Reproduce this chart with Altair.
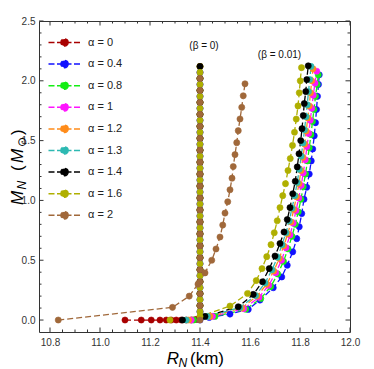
import altair as alt
import pandas as pd

# ---------------- series definitions ----------------
alpha_labels = ["α = 0", "α = 0.4", "α = 0.8", "α = 1", "α = 1.2",
                "α = 1.3", "α = 1.4", "α = 1.6", "α = 2"]
alpha_colors = ["#A80000", "#1010FF", "#14EE14", "#FF14FF", "#FF8C1A",
                "#2DB9B2", "#000000", "#AFAF00", "#A0683A"]

# beta = 0 branch: vertical column at R ~ 11.40 km (same for every alpha)
beta0_R = 11.40
beta0_M_a = [0.02, 0.12, 0.22, 0.32, 0.42, 0.52, 0.62, 0.72, 0.82, 0.92, 1.02,
             1.12, 1.22, 1.32, 1.42, 1.52, 1.62, 1.72, 1.82, 1.92, 2.02, 2.12]
beta0_M_b = [0.07, 0.17, 0.27, 0.37, 0.47, 0.57, 0.67, 0.77, 0.87, 0.97, 1.07,
             1.17, 1.27, 1.37, 1.47, 1.57, 1.67, 1.77, 1.87, 1.97, 2.07]
beta0_M_c = [0.0, 0.12, 0.22, 0.32, 0.42, 0.52, 0.62, 0.72, 0.82, 0.92, 1.02,
             1.12, 1.22, 1.32, 1.42, 1.52, 1.62, 1.72, 1.82, 1.92, 2.02]
beta0_sets = ["a", "b", "a", "b", "a", "b", "a", "b", "c"]

# alpha = 0 low-mass tail
a0_tail_R = [11.10, 11.165, 11.205, 11.24, 11.265, 11.285, 11.305, 11.325,
             11.345, 11.365, 11.385]
a0_tail_M = [0.0, 0.0, 0.0, 0.0, 0.0, 0.0, 0.0, 0.0, 0.0, 0.0, 0.005]

# beta = 0.01 branch
r_a04 = [11.40, 11.437, 11.52, 11.593, 11.64, 11.693, 11.727, 11.749, 11.771, 11.787,
         11.797, 11.807, 11.816, 11.827, 11.837, 11.845, 11.851, 11.857, 11.862,
         11.866, 11.870, 11.874, 11.877]
m_a04 = [0.0, 0.022, 0.05, 0.089, 0.167, 0.27, 0.36, 0.458, 0.57, 0.68, 0.78, 0.89,
         1.01, 1.11, 1.22, 1.33, 1.43, 1.54, 1.65, 1.76, 1.87, 1.97, 2.05]
r_a08 = [11.375, 11.46, 11.583, 11.643, 11.683, 11.711, 11.734, 11.752, 11.768, 11.781,
         11.793, 11.804, 11.813, 11.822, 11.83, 11.837, 11.844, 11.85, 11.856, 11.862,
         11.869, 11.873]
m_a08 = [0.0, 0.03, 0.09, 0.18, 0.28, 0.385, 0.49, 0.595, 0.70, 0.80, 0.905, 1.01,
         1.115, 1.22, 1.33, 1.44, 1.55, 1.66, 1.76, 1.87, 1.97, 2.05]
r_a10 = [11.365, 11.45, 11.575, 11.636, 11.675, 11.703, 11.726, 11.744, 11.76, 11.773,
         11.784, 11.795, 11.805, 11.813, 11.821, 11.828, 11.835, 11.841, 11.847,
         11.853, 11.86, 11.867]
m_a10 = [0.0, 0.03, 0.095, 0.19, 0.29, 0.395, 0.50, 0.605, 0.71, 0.81, 0.915, 1.02,
         1.125, 1.23, 1.34, 1.45, 1.56, 1.67, 1.77, 1.88, 1.98, 2.08]
r_a12 = [11.355, 11.44, 11.567, 11.628, 11.667, 11.695, 11.717, 11.735, 11.751, 11.764,
         11.775, 11.786, 11.796, 11.804, 11.812, 11.819, 11.825, 11.831, 11.837,
         11.842, 11.847, 11.852]
m_a12 = [0.0, 0.03, 0.10, 0.20, 0.30, 0.41, 0.515, 0.62, 0.72, 0.82, 0.925, 1.03,
         1.14, 1.25, 1.36, 1.47, 1.58, 1.69, 1.79, 1.90, 2.00, 2.10]
r_a13 = [11.345, 11.43, 11.56, 11.622, 11.66, 11.688, 11.71, 11.728, 11.744, 11.757,
         11.768, 11.779, 11.789, 11.797, 11.805, 11.812, 11.818, 11.824, 11.829,
         11.834, 11.839, 11.844]
m_a13 = [0.0, 0.03, 0.105, 0.205, 0.31, 0.42, 0.525, 0.63, 0.73, 0.83, 0.935, 1.04,
         1.15, 1.26, 1.37, 1.48, 1.59, 1.70, 1.80, 1.91, 2.01, 2.12]
r_a14 = [11.33, 11.42, 11.553, 11.613, 11.65, 11.677, 11.70, 11.72, 11.736, 11.749,
         11.76, 11.771, 11.781, 11.789, 11.796, 11.803, 11.808, 11.813, 11.817,
         11.823, 11.827, 11.833]
m_a14 = [0.0, 0.03, 0.111, 0.214, 0.32, 0.43, 0.535, 0.64, 0.736, 0.84, 0.94, 1.056,
         1.16, 1.28, 1.39, 1.50, 1.60, 1.71, 1.81, 1.91, 2.01, 2.125]
r_a16 = [11.28, 11.40, 11.52, 11.59, 11.625, 11.648, 11.667, 11.684, 11.697, 11.709,
         11.72, 11.731, 11.742, 11.752, 11.761, 11.77, 11.778, 11.785, 11.792,
         11.797, 11.801, 11.806]
m_a16 = [0.0, 0.03, 0.117, 0.222, 0.33, 0.43, 0.53, 0.63, 0.73, 0.83, 0.94, 1.04,
         1.14, 1.25, 1.35, 1.46, 1.57, 1.68, 1.79, 1.90, 2.00, 2.11]
r_a20 = [10.833, 11.29, 11.357, 11.392, 11.42, 11.447, 11.464, 11.48, 11.491, 11.50,
         11.511, 11.52, 11.528, 11.533, 11.54, 11.547, 11.553, 11.56, 11.567, 11.573,
         11.58]
m_a20 = [0.0, 0.106, 0.20, 0.30, 0.394, 0.50, 0.594, 0.694, 0.794, 0.894, 0.989,
         1.089, 1.186, 1.283, 1.383, 1.483, 1.583, 1.681, 1.778, 1.875, 1.975]

beta001 = {
    "α = 0.4": (r_a04, m_a04), "α = 0.8": (r_a08, m_a08), "α = 1": (r_a10, m_a10),
    "α = 1.2": (r_a12, m_a12), "α = 1.3": (r_a13, m_a13), "α = 1.4": (r_a14, m_a14),
    "α = 1.6": (r_a16, m_a16), "α = 2": (r_a20, m_a20),
}

# annotations
note_text = ["(β = 0)", "(β = 0.01)"]
note_R = [11.416, 11.718]
note_M = [2.29, 2.218]

# axis ticks
x_major = [10.8, 11.0, 11.2, 11.4, 11.6, 11.8, 12.0]
x_minor = [10.85, 10.9, 10.95, 11.05, 11.1, 11.15, 11.25, 11.3, 11.35, 11.45, 11.5,
           11.55, 11.65, 11.7, 11.75, 11.85, 11.9, 11.95]
y_major = [0.0, 0.5, 1.0, 1.5, 2.0, 2.5]
y_minor = [0.1, 0.2, 0.3, 0.4, 0.6, 0.7, 0.8, 0.9, 1.1, 1.2, 1.3, 1.4, 1.6, 1.7,
           1.8, 1.9, 2.1, 2.2, 2.3, 2.4]

# ---------------- build table ----------------
rows = []


def add(label, curve, Rs, Ms):
    for i, (r, m) in enumerate(zip(Rs, Ms)):
        rows.append({"lab": label, "curve": curve, "idx": i, "R": r, "M": m})


col_lists = {"a": beta0_M_a, "b": beta0_M_b, "c": beta0_M_c}
for lab, s in zip(alpha_labels, beta0_sets):
    colM = col_lists[s]
    if lab == "α = 0":
        add(lab, lab + "|b0", a0_tail_R + [beta0_R] * len(colM), a0_tail_M + colM)
    else:
        add(lab, lab + "|b0", [beta0_R] * len(colM), colM)
    if lab in beta001:
        Rs, Ms = beta001[lab]
        add(lab, lab + "|b001", Rs, Ms)

df = pd.DataFrame(rows)

W, H = 311, 311
FONT = "Liberation Sans"
xs = alt.Scale(domain=[10.756, 12.0], nice=False, zero=False)
ys = alt.Scale(domain=[-0.1, 2.5], nice=False, zero=False)
xaxis = alt.Axis(values=x_major, format=".1f", ticks=False, domain=False, grid=False,
                 title=None, labelFont=FONT, labelFontSize=10, labelColor="#333",
                 labelPadding=5, labelFlush=False)
yaxis = alt.Axis(values=y_major, format=".1f", ticks=False, domain=False, grid=False,
                 title=None, labelFont=FONT, labelFontSize=10, labelColor="#333",
                 labelPadding=4, labelFlush=False)
cscale = alt.Scale(domain=alpha_labels, range=alpha_colors)
legend_path = ("M-4,0H4M0.9,0A0.9,0.9,0,1,1,-0.9,0A0.9,0.9,0,1,1,0.9,0Z")
leg = alt.Legend(title=None, orient="none", legendX=20, legendY=16,
                 symbolType=legend_path, symbolSize=64, symbolStrokeWidth=1.5,
                 symbolDash=[6, 2.5], labelFont=FONT, labelFontSize=11,
                 labelColor="#222", labelOffset=18, rowPadding=6.6, padding=0)

X = alt.X("R:Q", scale=xs, axis=xaxis)
Y = alt.Y("M:Q", scale=ys, axis=yaxis)

lines = alt.Chart(df).mark_line(strokeDash=[6, 3], strokeWidth=1.3).encode(
    x=X, y=Y,
    stroke=alt.Stroke("lab:N", scale=cscale, legend=leg),
    detail="curve:N",
    order="idx:Q",
)
points = alt.Chart(df).mark_point(filled=True, size=38, opacity=1, strokeWidth=0.6).encode(
    x=X, y=Y,
    fill=alt.Fill("lab:N", scale=cscale, legend=leg),
    stroke=alt.Stroke("lab:N", scale=cscale, legend=leg),
)

notes = alt.Chart(pd.DataFrame({"t": note_text, "R": note_R, "M": note_M})).mark_text(
    font=FONT, fontSize=10, color="#111", align="center", baseline="middle"
).encode(x=X, y=Y, text="t:N")

tick_color = "#333"
xt_major = pd.DataFrame({"R": x_major})
xt_minor = pd.DataFrame({"R": x_minor})
yt_major = pd.DataFrame({"M": y_major})
yt_minor = pd.DataFrame({"M": y_minor})


def xticks(d, y0, y1):
    return alt.Chart(d).mark_rule(color=tick_color, strokeWidth=1).encode(
        x=X, y=alt.value(y0), y2=alt.value(y1))


def yticks(d, x0, x1):
    return alt.Chart(d).mark_rule(color=tick_color, strokeWidth=1).encode(
        y=Y, x=alt.value(x0), x2=alt.value(x1))


tick_layers = [
    xticks(xt_major, H, H - 4.5), xticks(xt_minor, H, H - 2.5),
    xticks(xt_major, 0, 4.5), xticks(xt_minor, 0, 2.5),
    yticks(yt_major, 0, 4.5), yticks(yt_minor, 0, 2.5),
    yticks(yt_major, W, W - 4.5), yticks(yt_minor, W, W - 2.5),
]


def piece(txt, px, py, size, italic=False, angle=0):
    kw = dict(font=FONT, fontSize=size, color="#000", align="left",
              baseline="alphabetic", angle=angle)
    if italic:
        kw["fontStyle"] = "italic"
    return alt.Chart(pd.DataFrame({"t": [txt]})).mark_text(**kw).encode(
        x=alt.value(px), y=alt.value(py), text="t:N")


title_layers = [
    piece("R", 127.7, 343, 17, True),
    piece("N", 139.5, 346, 12, True),
    piece("(km)", 151, 343, 17),
    piece("M", -16, 184, 17, True, 270),
    piece("N", -13, 168.5, 12, True, 270),
    piece("(", -16, 150, 17, False, 270),
    piece("M", -16, 142, 17, True, 270),
    piece("⊙", -13, 126, 12, False, 270),
    piece(")", -16, 114, 17, False, 270),
]

chart = alt.layer(lines, points, notes, *tick_layers, *title_layers).properties(
    width=W, height=H,
    autosize=alt.AutoSizeParams(type="none"),
    padding={"left": 31, "top": 13, "right": 16, "bottom": 40},
).configure_view(stroke="#333", strokeWidth=1)

chart.save("out.html", embed_options={"renderer": "svg", "actions": False})
